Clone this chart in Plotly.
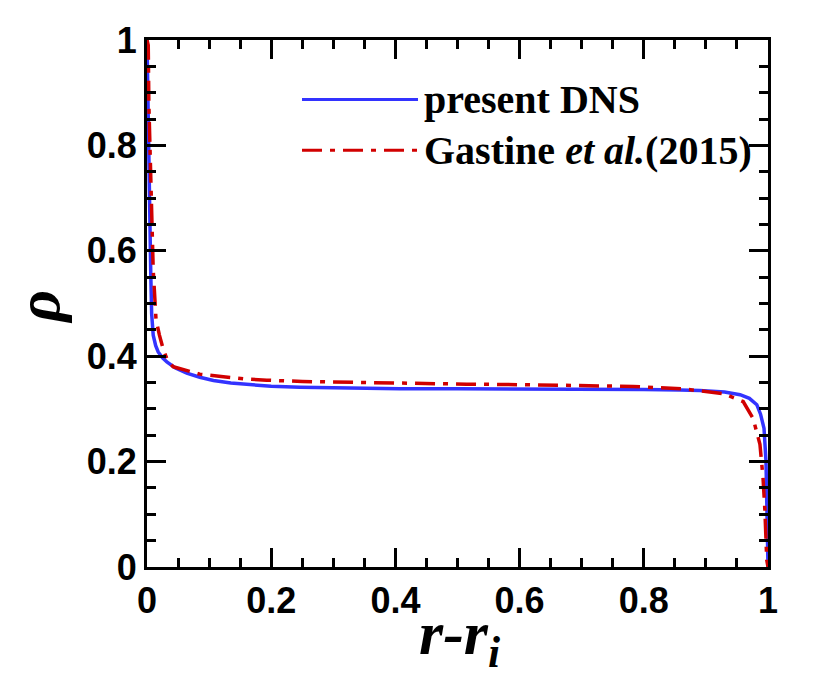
import plotly.graph_objects as go

# present DNS (blue solid)
dns_x = [0.0, 0.001, 0.002, 0.003, 0.0045, 0.006, 0.0075, 0.01, 0.014, 0.018,
         0.025, 0.032, 0.045, 0.064, 0.085, 0.107, 0.135, 0.166, 0.2, 0.246,
         0.3, 0.407, 0.5, 0.568, 0.65, 0.729, 0.8, 0.858, 0.89, 0.93,
         0.955, 0.97, 0.982, 0.988, 0.9936, 0.9968, 0.9984, 0.9995, 1.0]
dns_rho = [1.0, 0.92, 0.78, 0.69, 0.62, 0.56, 0.48, 0.44, 0.42, 0.408,
           0.397, 0.389, 0.378, 0.368, 0.36, 0.354, 0.349, 0.346, 0.343, 0.341,
           0.340, 0.338, 0.338, 0.338, 0.338, 0.338, 0.337, 0.336, 0.335, 0.332,
           0.327, 0.320, 0.308, 0.29, 0.263, 0.20, 0.107, 0.013, 0.0]

# Gastine et al. (2015) (red dash-dot)
gas_x = [0.0, 0.002, 0.003, 0.006, 0.0065, 0.008, 0.010, 0.013, 0.0145, 0.020,
         0.026, 0.032, 0.042, 0.048, 0.085, 0.123, 0.155, 0.193, 0.25, 0.354,
         0.43, 0.515, 0.6, 0.676, 0.783, 0.863, 0.928, 0.96, 0.976, 0.987,
         0.992, 0.995, 0.998, 1.0]
gas_rho = [1.0, 0.99, 0.878, 0.752, 0.69, 0.628, 0.564, 0.502, 0.47, 0.44,
           0.414, 0.395, 0.38, 0.378, 0.366, 0.361, 0.357, 0.3545, 0.352, 0.350,
           0.348, 0.347, 0.346, 0.345, 0.3427, 0.338, 0.329, 0.314, 0.282, 0.233,
           0.169, 0.107, 0.013, 0.0]

blue = "#3333ff"
red = "#d10000"
red_dash = "20px,8px,5px,8px"

fig = go.Figure()

fig.add_trace(go.Scatter(x=dns_x, y=dns_rho, mode="lines", name="present DNS",
                         line=dict(color=blue, width=3.5), showlegend=False))
fig.add_trace(go.Scatter(x=gas_x, y=gas_rho, mode="lines", name="Gastine et al.(2015)",
                         line=dict(color=red, width=3.5, dash=red_dash),
                         showlegend=False))

axis_common = dict(
    range=[0, 1],
    dtick=0.2,
    ticks="inside",
    ticklen=19,
    tickwidth=3,
    tickcolor="black",
    showline=True,
    linewidth=3,
    linecolor="black",
    mirror="allticks",
    showgrid=False,
    zeroline=False,
    tickfont=dict(family="Liberation Sans", size=36, color="black", weight="bold"),
    minor=dict(ticks="inside", dtick=0.05, ticklen=9, tickwidth=3,
               tickcolor="black", showgrid=False),
)

fig.update_xaxes(**axis_common)
fig.update_yaxes(**axis_common)

# axis titles as annotations so they sit where the original has them
title_font = dict(family="Liberation Serif", size=62, color="black")
fig.add_annotation(xref="paper", yref="paper", x=0.504, y=0, yshift=-30,
                   xanchor="center", yanchor="top", showarrow=False,
                   text="<b><i>r-r<sub>i</sub></i></b>", font=title_font)
fig.add_annotation(xref="paper", yref="paper", x=-0.1755, y=0.494,
                   xanchor="center", yanchor="middle", showarrow=False,
                   textangle=-90, text="<b><i>ρ</i></b>", font=title_font)

# legend drawn by hand: long sample lines like the original
legend_rows = [("<b>present DNS</b>", blue, "solid", 0.887),
               ("<b>Gastine <i>et al.</i>(2015)</b>", red, red_dash, 0.791)]
for label, col, dash, ly in legend_rows:
    fig.add_shape(type="line", xref="paper", yref="paper",
                  x0=0.2496, x1=0.4364, y0=ly, y1=ly,
                  line=dict(color=col, width=3, dash=dash))
    fig.add_annotation(xref="paper", yref="paper", x=0.443, y=ly,
                       xanchor="left", yanchor="middle", showarrow=False,
                       text=label,
                       font=dict(family="Liberation Serif", size=40, color="black"))

fig.update_layout(
    width=822,
    height=684,
    margin=dict(l=139, r=62, t=27, b=125),
    plot_bgcolor="white",
    paper_bgcolor="white",
)

fig.write_html("out.html")
